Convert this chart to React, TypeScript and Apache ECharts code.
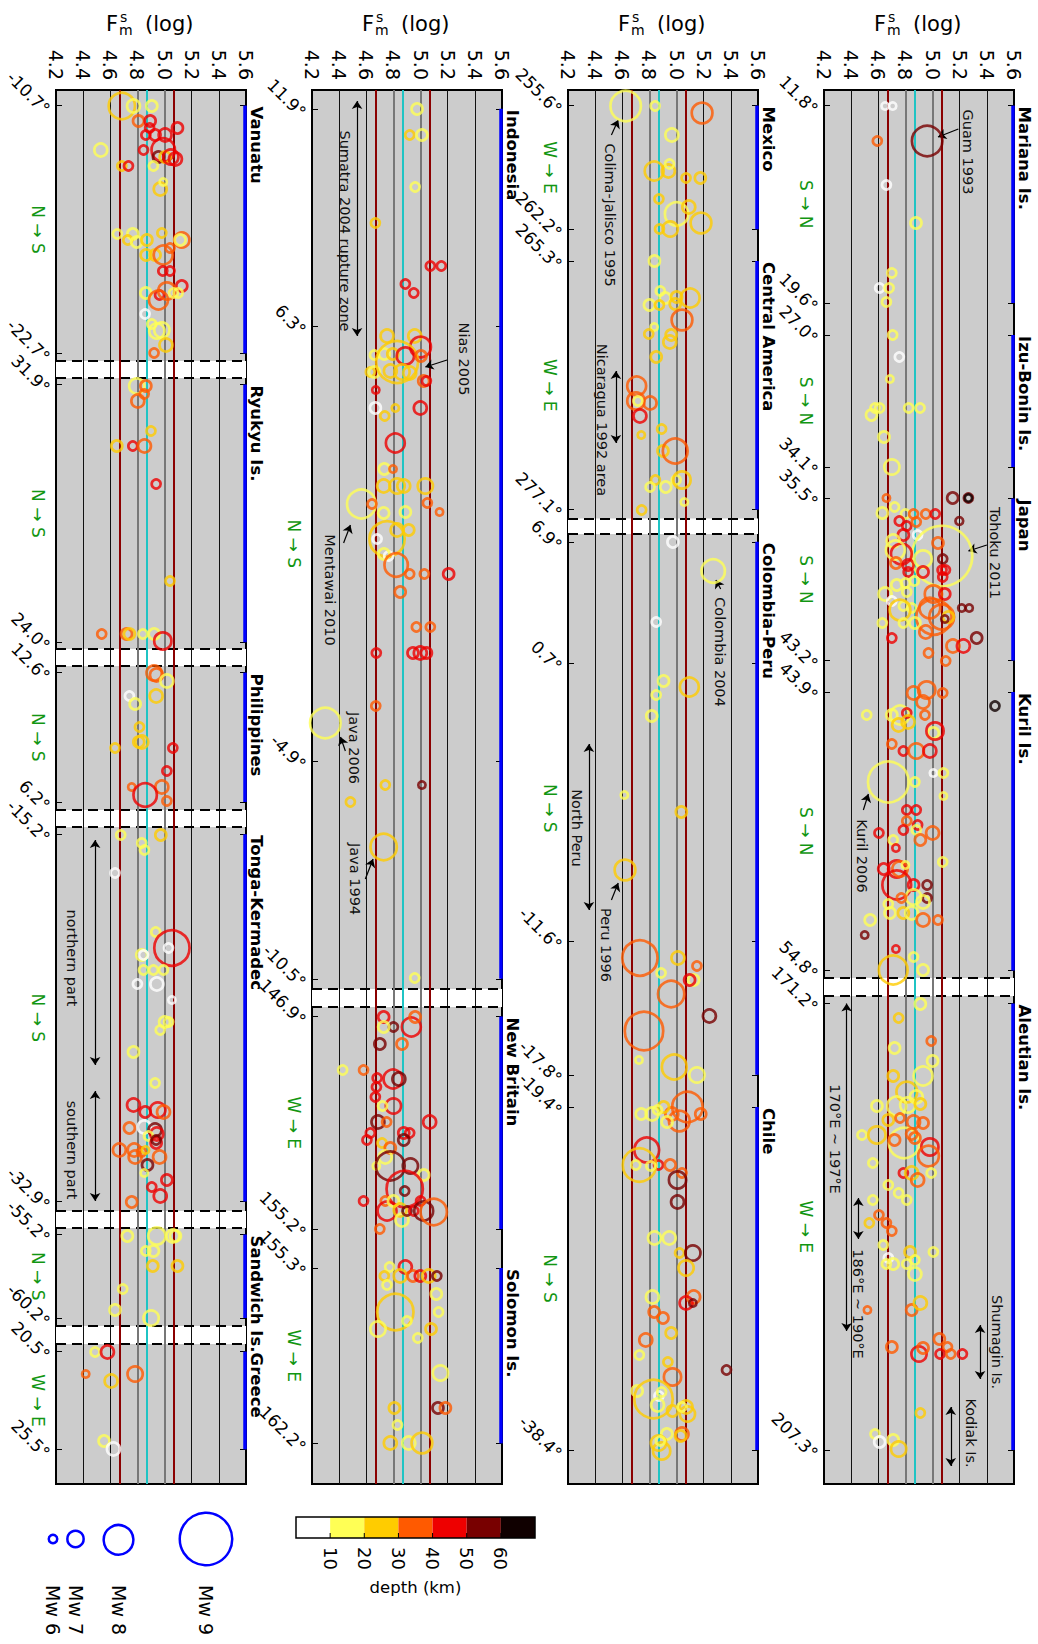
import React, { useEffect, useRef } from "react";
import * as echarts from "echarts";

const FONT = "DejaVu Sans";
const FM_MIN = 4.2;
const FM_MAX = 5.6;
const FM_STEP = 0.2;
const ARC_MAX = 1394; // along-arc distance (arbitrary units) covered by each panel
const blackGridFm = [4.4, 4.6, 5.2, 5.4];
const grayGridFm = [4.8, 5.0];
const meanFm = 4.865;
const sdFm = [4.665, 5.065];
const depthEdges = [10, 20, 30, 40, 50, 60];
const depthColors = ["#ffffff", "#ffff55", "#ffcc00", "#ff5a00", "#ee0000", "#780000", "#100000"];
const mwLegend = [6, 7, 8, 9];

// ---------- Panel 1 : Mariana .. Aleutian ----------
const p1TickPos = [15.6, 213, 245, 377, 408.5, 570.5, 602, 880.5, 913.6, 1360];
const p1TickLabels = ["11.8°", "19.6°", "27.0°", "34.1°", "35.5°", "43.2°", "43.9°", "54.8°", "171.2°", "207.3°"];
const p1Regions: [string, number, number, string][] = [
  ["Mariana Is.", 15.6, 213, "S → N"],
  ["Izu-Bonin Is.", 245, 377, "S → N"],
  ["Japan", 408.5, 570.5, "S → N"],
  ["Kuril Is.", 602, 880.5, "S → N"],
  ["Aleutian Is.", 913.6, 1360, "W → E"],
];
const p1Bands = [[888, 906]];
// [Fm, along-arc position, Mw, depth km]
const p1Quakes = [
  [4.65, 16, 5.5, 5], [4.706, 16, 5.5, 5], [4.593, 51, 5.8, 35], [4.96, 51, 7.75, 55], [4.66, 95, 5.8, 5],
  [4.878, 133, 6.1, 15], [4.70, 183, 5.8, 15], [4.61, 198, 5.8, 5], [4.68, 198, 5.8, 15], [4.66, 212, 5.8, 15],
  [4.706, 245, 5.8, 15], [4.755, 267, 5.8, 5], [4.686, 289, 5.5, 15], [4.576, 318, 5.8, 15], [4.55, 325, 6.1, 15],
  [4.61, 318, 5.8, 15], [4.824, 318, 5.8, 15], [4.908, 318, 5.8, 15], [4.642, 347, 6.1, 15], [4.70, 377, 6.6, 15],
  [5.148, 408, 6.1, 55], [5.264, 408, 5.8, 55], [5.264, 408, 5.5, 65], [4.66, 408, 5.5, 35], [5.197, 431, 5.6, 55],
  [4.63, 423, 6.1, 15], [4.72, 417, 5.8, 15], [4.80, 424, 5.8, 15], [4.86, 424, 5.8, 35], [4.95, 424, 5.8, 35],
  [5.02, 424, 5.8, 45], [4.755, 431, 5.8, 45], [4.81, 436, 5.8, 45], [4.88, 432, 5.8, 35], [4.89, 445, 5.8, 5],
  [4.785, 445, 6.1, 45], [4.71, 451, 6.35, 15], [5.07, 466, 8.95, 15], [5.04, 453, 6.1, 35], [4.77, 464, 7.1, 45],
  [4.726, 460, 6.95, 15], [4.73, 473, 6.1, 35], [4.82, 475, 6.1, 45], [4.93, 469, 6.8, 15], [5.075, 469, 5.8, 55],
  [5.07, 480, 5.8, 45], [5.095, 480, 5.8, 45], [5.075, 487, 5.8, 45], [4.82, 482, 5.8, 45], [4.93, 482, 6.1, 45],
  [4.736, 495, 6.1, 15], [4.80, 493, 5.8, 15], [4.866, 491, 5.8, 15], [4.81, 502, 5.8, 15], [4.65, 504, 6.35, 15],
  [4.70, 511, 5.8, 5], [5.006, 504, 6.8, 35], [5.09, 504, 6.1, 45], [4.785, 516, 5.8, 15], [4.846, 518, 5.8, 15],
  [4.76, 520, 7.1, 25], [4.98, 518, 7.1, 35], [5.067, 527, 7.4, 35], [5.01, 527, 8.0, 35], [5.215, 518, 5.5, 55],
  [5.27, 518, 5.5, 55], [5.116, 527, 6.1, 25], [5.09, 529, 5.5, 55], [4.63, 533, 5.8, 15], [4.785, 533, 5.8, 15],
  [4.87, 533, 6.1, 15], [4.70, 548, 5.8, 45], [4.95, 542, 6.35, 35], [5.325, 548, 6.1, 55], [5.15, 556, 6.35, 35],
  [5.227, 556, 6.35, 45], [4.97, 563, 5.8, 35], [5.097, 571, 5.8, 35],
  [5.46, 616, 5.8, 65], [4.515, 625, 5.8, 15], [4.86, 603, 6.35, 35], [4.957, 600, 6.8, 35], [4.93, 612, 6.35, 35],
  [5.075, 603, 5.8, 35], [4.70, 625, 6.1, 15], [4.76, 625, 6.95, 15], [4.81, 623, 5.8, 45], [4.944, 625, 5.8, 35],
  [4.82, 632, 6.35, 25], [4.75, 635, 6.35, 25], [5.006, 643, 6.1, 15], [5.018, 641, 6.8, 45], [4.70, 654, 5.8, 35],
  [4.785, 661, 5.8, 45], [4.88, 661, 6.6, 35], [4.98, 661, 6.35, 45], [4.674, 692, 8.25, 15], [4.87, 692, 5.8, 15],
  [5.006, 683, 5.5, 5], [5.08, 683, 5.8, 15], [5.08, 706, 5.5, 15], [4.81, 720, 5.8, 45], [4.88, 720, 5.8, 45],
  [4.81, 731, 5.8, 35], [4.785, 740, 5.8, 45], [4.89, 735, 5.8, 45], [4.88, 740, 5.8, 15], [4.91, 750, 6.1, 35],
  [5.00, 743, 6.35, 35], [4.605, 743, 5.8, 45], [4.71, 750, 5.8, 15], [4.73, 758, 5.5, 45], [5.075, 772, 5.8, 15],
  [4.64, 779, 6.1, 45], [4.736, 779, 6.8, 45], [4.76, 779, 6.6, 35], [4.80, 775, 5.5, 15], [4.736, 795, 7.65, 45],
  [4.86, 795, 6.1, 45], [4.96, 795, 5.8, 55], [4.96, 808, 5.8, 55], [4.86, 807, 6.6, 15], [4.77, 808, 5.8, 35],
  [4.93, 812, 6.35, 15], [4.674, 814, 5.8, 15], [4.54, 830, 6.1, 15], [4.686, 823, 6.1, 15], [4.785, 823, 6.1, 25],
  [4.846, 823, 6.35, 15], [4.93, 830, 6.35, 35], [5.04, 830, 5.8, 35], [4.50, 845, 5.5, 55], [4.73, 859, 5.5, 45],
  [4.86, 867, 5.8, 15], [4.93, 880, 6.1, 15], [4.71, 880, 7.65, 25],
  [4.91, 914, 6.1, 15], [4.75, 928, 5.8, 25], [4.99, 951, 5.8, 35], [4.72, 958, 6.1, 15], [5.00, 971, 6.1, 15],
  [4.71, 986, 6.1, 25], [4.93, 986, 6.95, 15], [4.81, 1002, 7.1, 25], [4.88, 1007, 6.35, 15], [4.59, 1016, 6.1, 15],
  [4.736, 1016, 6.95, 15], [4.817, 1015, 6.6, 15], [4.91, 1014, 6.1, 25], [4.674, 1030, 6.1, 25], [4.76, 1028, 5.8, 35],
  [4.86, 1032, 6.35, 35], [4.93, 1033, 6.1, 35], [4.48, 1045, 5.8, 15], [4.59, 1045, 6.8, 25], [4.79, 1053, 7.75, 15],
  [4.98, 1057, 6.8, 45], [4.97, 1066, 7.1, 35], [4.846, 1044, 6.1, 35], [4.87, 1048, 6.1, 35], [4.72, 1050, 6.1, 35],
  [4.56, 1073, 5.8, 15], [4.785, 1083, 5.8, 45], [4.846, 1083, 6.35, 25], [4.89, 1090, 6.35, 35], [4.99, 1083, 5.8, 15],
  [4.674, 1095, 5.8, 15], [4.75, 1103, 5.8, 15], [4.81, 1110, 5.8, 15], [4.56, 1110, 5.8, 15], [4.605, 1125, 5.8, 35],
  [4.534, 1133, 5.8, 25], [4.66, 1133, 5.8, 35], [4.70, 1141, 5.8, 35], [4.637, 1155, 5.8, 15], [4.674, 1168, 5.8, 5],
  [4.71, 1174, 6.1, 15], [4.66, 1174, 5.8, 15], [4.834, 1162, 6.1, 25], [4.87, 1170, 5.8, 15], [4.81, 1174, 5.8, 15],
  [4.87, 1184, 6.35, 15], [5.006, 1162, 5.8, 15], [4.52, 1220, 5.5, 35], [4.846, 1220, 6.1, 35], [4.91, 1213, 6.35, 25],
  [4.70, 1257, 6.1, 35], [4.90, 1264, 6.6, 45], [4.93, 1258, 6.1, 35], [5.05, 1249, 6.1, 35], [5.11, 1257, 5.8, 35],
  [5.055, 1264, 5.8, 45], [5.134, 1264, 5.8, 35], [5.22, 1264, 5.8, 45], [4.91, 1323, 5.8, 25], [4.576, 1344, 5.8, 15],
  [4.61, 1352, 6.1, 5], [4.71, 1350, 6.1, 15], [4.75, 1359, 6.6, 25],
];
const p1Notes: [number, number, string][] = [
  [5.264, 62, "Guam 1993"],
  [5.46, 463, "Tohoku 2011"],
  [4.478, 766, "Kuril 2006"],
  [4.28, 1049, "170°E ~ 197°E"],
  [4.453, 1214, "186°E ~ 190°E"],
  [5.478, 1252, "Shumagin Is."],
  [5.28, 1343, "Kodiak Is."],
];
// [x1, y1, x2, y2, doubleHeaded]
const p1Arrows = [
  [5.19, 39, 5.04, 47, 0],
  [5.40, 455, 5.264, 461, 0],
  [4.49, 720, 4.527, 704, 0],
  [4.367, 913.6, 4.367, 1241, 1],
  [4.453, 1108, 4.453, 1149, 1],
  [5.35, 1235, 5.35, 1289, 1],
  [5.134, 1317, 5.134, 1376, 1],
];

// ---------- Panel 2 : Mexico .. Chile ----------
const p2TickPos = [15.6, 139.3, 171, 419.6, 451.8, 572.8, 851.6, 984.8, 1017, 1360];
const p2TickLabels = ["255.6°", "262.2°", "265.3°", "277.1°", "6.9°", "0.7°", "-11.6°", "-17.8°", "-19.4°", "-38.4°"];
const p2Regions: [string, number, number, string][] = [
  ["Mexico", 15.6, 139.3, "W → E"],
  ["Central America", 171, 419.6, "W → E"],
  ["Colombia-Peru", 451.8, 984.8, "N → S"],
  ["Chile", 1017, 1360, "N → S"],
];
const p2Bands = [[428.6, 444]];
const p2Quakes = [
  [4.625, 16, 7.75, 15], [4.842, 16, 5.8, 15], [5.188, 23, 7.1, 35], [4.965, 45, 6.35, 15], [4.835, 81, 6.95, 25],
  [4.94, 81, 6.35, 25], [4.948, 74, 5.8, 15], [5.07, 88, 5.8, 25], [5.175, 88, 6.1, 25], [4.87, 109, 5.8, 25],
  [5.0, 124, 7.3, 15], [5.09, 117, 6.35, 25], [5.18, 133, 7.1, 25], [4.874, 139, 5.8, 25], [4.953, 139, 6.6, 25],
  [4.837, 171, 6.1, 15], [4.88, 201, 5.8, 15], [4.916, 208, 6.1, 15], [4.80, 215, 6.1, 15], [4.874, 215, 5.8, 25],
  [5.0, 207, 6.1, 25], [5.10, 208, 6.95, 25], [4.99, 214, 6.1, 25], [5.04, 230, 7.1, 35], [4.835, 237, 5.5, 15],
  [4.795, 244, 5.8, 25], [4.96, 245, 6.1, 25], [4.95, 252, 6.35, 25], [4.85, 267, 6.1, 25], [4.706, 296, 6.95, 35],
  [4.70, 311, 6.8, 35], [4.805, 313, 6.35, 35], [4.73, 326, 6.35, 45], [4.74, 345, 5.5, 25], [4.715, 311, 5.8, 15],
  [4.89, 339, 5.8, 25], [4.90, 361, 6.1, 25], [4.99, 361, 7.4, 35], [4.844, 390, 5.8, 25], [4.805, 397, 5.8, 15],
  [4.92, 397, 6.1, 15], [4.997, 390, 5.8, 15], [5.04, 390, 6.8, 25], [5.057, 412, 5.5, 15], [4.743, 420, 5.8, 25],
  [4.973, 452, 6.1, 5], [5.27, 481, 7.3, 15], [4.85, 532, 5.8, 5], [4.904, 591, 6.1, 15], [5.094, 597, 6.95, 25],
  [4.85, 605, 5.8, 15], [4.817, 626, 6.1, 15], [4.615, 705, 5.5, 15], [5.035, 722, 6.1, 25], [4.62, 780, 7.1, 25],
  [4.73, 868, 8.0, 35], [5.01, 868, 6.35, 25], [4.886, 883, 5.8, 15], [5.15, 876, 5.8, 35], [5.126, 890, 6.1, 15],
  [5.096, 890, 6.1, 45], [4.96, 904, 7.5, 35], [5.242, 926, 6.35, 55], [4.76, 941, 8.15, 35], [4.723, 970, 5.5, 15],
  [4.983, 977, 7.4, 25], [5.15, 985, 6.6, 15],
  [5.08, 1017, 7.75, 35], [5.178, 1024, 6.1, 35], [5.02, 1031, 7.1, 35], [4.965, 1024, 6.35, 35], [4.904, 1017, 6.1, 25],
  [4.93, 1032, 6.1, 15], [4.82, 1024, 6.35, 15], [4.74, 1024, 6.1, 15], [4.86, 1020, 5.8, 15], [4.78, 1060, 7.4, 45],
  [4.867, 1075, 5.8, 45], [4.726, 1075, 7.9, 25], [4.70, 1075, 5.8, 15], [4.81, 1076, 5.8, 15], [4.953, 1075, 6.1, 35],
  [5.04, 1083, 5.8, 35], [5.007, 1090, 6.8, 55], [5.007, 1112, 6.35, 55], [4.837, 1148, 6.35, 15], [4.946, 1148, 6.35, 15],
  [5.022, 1163, 5.8, 25], [5.12, 1163, 6.6, 55], [5.07, 1178, 6.6, 25], [4.822, 1207, 6.35, 15], [5.126, 1207, 6.35, 35],
  [5.07, 1213, 6.35, 45], [5.12, 1213, 5.5, 55], [4.835, 1222, 6.1, 35], [4.90, 1228, 6.1, 35], [4.773, 1250, 6.35, 35],
  [4.96, 1243, 6.1, 25], [4.726, 1265, 5.8, 15], [4.936, 1272, 5.8, 25], [4.97, 1287, 6.8, 35], [5.368, 1280, 5.8, 55],
  [4.71, 1301, 6.1, 15], [4.83, 1309, 8.15, 25], [4.87, 1306, 5.8, 5], [4.89, 1302, 5.8, 15], [4.86, 1315, 6.35, 15],
  [4.97, 1321, 6.1, 25], [5.07, 1317, 6.35, 25], [5.08, 1324, 6.6, 25], [5.04, 1317, 5.8, 15], [4.928, 1344, 6.1, 15],
  [5.04, 1344, 6.35, 35], [5.03, 1346, 6.1, 25], [4.867, 1353, 6.6, 25], [4.89, 1361, 6.8, 25], [4.88, 1351, 5.8, 15],
];
const p2Notes: [number, number, string][] = [
  [4.509, 125, "Colima-Jalisco 1995"],
  [4.447, 330, "Nicaragua 1992 area"],
  [5.323, 562, "Colombia 2004"],
  [4.267, 738, "North Peru"],
  [4.48, 855, "Peru 1996"],
];
const p2Arrows = [
  [4.52, 45, 4.57, 30, 0],
  [4.553, 281, 4.553, 353, 1],
  [5.325, 499, 5.29, 490, 0],
  [4.354, 654, 4.354, 820, 1],
  [4.52, 810, 4.57, 793, 0],
];

// ---------- Panel 3 : Indonesia .. Solomon ----------
const p3TickPos = [18.75, 236.6, 671, 888.8, 926.5, 1139, 1178, 1353.4];
const p3TickLabels = ["11.9°", "6.3°", "-4.9°", "-10.5°", "146.9°", "155.2°", "155.3°", "162.2°"];
const p3Regions: [string, number, number, string][] = [
  ["Indonesia", 18.75, 888.8, "N → S"],
  ["New Britain", 926.5, 1139, "W → E"],
  ["Solomon Is.", 1178, 1353.4, "W → E"],
];
const p3Bands = [[899, 917]];
const p3Quakes = [
  [4.974, 19, 6.1, 15], [4.92, 45, 5.8, 25], [5.01, 45, 6.1, 15], [4.96, 97, 5.8, 15], [4.667, 133, 5.8, 25],
  [5.072, 176, 5.8, 45], [5.153, 176, 5.8, 45], [4.888, 194, 5.8, 45], [4.95, 203, 5.8, 45], [4.753, 246, 6.35, 25],
  [4.957, 246, 6.35, 25], [5.0, 257, 7.1, 45], [4.66, 265, 5.8, 15], [4.733, 264, 6.1, 15], [4.795, 264, 6.1, 25],
  [4.63, 282, 5.8, 25], [4.66, 282, 6.1, 15], [4.827, 272, 8.3, 25], [4.888, 266, 6.8, 45], [5.003, 266, 6.1, 35],
  [4.863, 282, 6.6, 25], [4.92, 283, 6.35, 25], [4.777, 281, 6.35, 25], [5.023, 291, 6.1, 35], [5.043, 291, 5.8, 45],
  [4.67, 300, 5.5, 45], [4.998, 318, 6.35, 45], [4.814, 318, 5.5, 25], [4.667, 318, 6.1, 5], [4.736, 326, 5.8, 25],
  [4.814, 353, 6.95, 45], [4.733, 379, 6.1, 15], [4.797, 379, 5.5, 35], [4.728, 396, 6.35, 25], [4.827, 396, 6.6, 25],
  [4.876, 396, 6.35, 25], [5.035, 396, 6.6, 25], [4.564, 414, 7.65, 15], [4.642, 414, 5.8, 35], [4.728, 423, 6.1, 15],
  [4.888, 422, 6.1, 15], [5.05, 413, 5.8, 35], [5.14, 422, 5.5, 35], [4.753, 449, 8.0, 25], [4.827, 440, 6.35, 25],
  [4.913, 440, 6.1, 25], [4.68, 449, 5.8, 5], [4.765, 466, 5.8, 5], [4.73, 464, 6.1, 15], [4.82, 475, 7.3, 35],
  [4.92, 484, 5.8, 35], [5.028, 484, 5.8, 35], [5.207, 484, 6.1, 45], [4.85, 502, 6.1, 35], [4.969, 537, 5.8, 35],
  [5.072, 537, 5.8, 35], [4.674, 563, 5.8, 45], [4.944, 563, 6.1, 45], [4.998, 563, 6.35, 45], [5.043, 563, 6.1, 45],
  [4.67, 616, 5.8, 35], [4.298, 633, 7.75, 15], [4.74, 695, 5.8, 25], [5.01, 695, 5.5, 55], [4.483, 712, 5.8, 25],
  [4.728, 757, 7.5, 25], [4.957, 888, 5.8, 15],
  [4.728, 927, 6.1, 45], [4.80, 937, 5.8, 55], [4.728, 937, 6.1, 15], [4.932, 937, 6.95, 45], [4.96, 927, 6.1, 35],
  [4.863, 954, 6.1, 35], [4.70, 954, 6.1, 55], [4.426, 980, 5.8, 15], [4.58, 980, 5.8, 35], [4.68, 988, 5.8, 45],
  [4.675, 997, 5.8, 45], [4.667, 1007, 5.8, 45], [4.797, 989, 6.95, 45], [4.84, 989, 6.35, 55], [4.80, 1016, 6.6, 45],
  [4.72, 1016, 5.8, 15], [5.067, 1032, 6.35, 45], [4.686, 1032, 6.35, 55], [4.75, 1032, 5.8, 35], [4.876, 1043, 6.1, 45],
  [4.92, 1043, 5.8, 45], [4.63, 1043, 5.8, 45], [4.605, 1050, 5.8, 45], [4.716, 1053, 5.8, 25], [4.777, 1058, 6.1, 35],
  [4.876, 1050, 6.1, 55], [4.74, 1067, 6.35, 15], [4.674, 1076, 5.5, 15], [4.777, 1076, 7.65, 55], [4.925, 1076, 6.6, 55],
  [5.023, 1085, 6.1, 15], [4.883, 1099, 8.05, 45], [4.883, 1101, 5.8, 55], [4.58, 1111, 5.8, 45], [4.74, 1111, 5.8, 35],
  [4.753, 1121, 6.95, 45], [4.80, 1111, 6.1, 15], [4.85, 1120, 6.35, 25], [4.863, 1130, 6.35, 15], [4.90, 1121, 5.8, 55],
  [4.95, 1121, 5.8, 45], [5.0, 1111, 5.8, 45], [5.023, 1121, 6.95, 55], [5.097, 1122, 7.5, 35], [4.70, 1139, 5.8, 35],
  [4.772, 1177, 5.8, 15], [4.888, 1177, 6.35, 45], [4.733, 1186, 5.8, 25], [4.85, 1186, 6.35, 25], [4.944, 1186, 6.1, 35],
  [4.998, 1186, 6.1, 45], [5.06, 1186, 6.35, 25], [5.12, 1186, 5.8, 55], [4.753, 1195, 5.8, 15], [5.116, 1204, 6.1, 15],
  [5.133, 1222, 5.8, 15], [4.814, 1222, 8.05, 25], [4.90, 1231, 5.8, 15], [4.686, 1239, 6.6, 15], [5.077, 1239, 6.1, 25],
  [4.98, 1248, 5.8, 15], [5.146, 1283, 6.6, 15], [4.807, 1318, 6.1, 25], [5.128, 1318, 6.1, 55], [5.183, 1318, 6.1, 35],
  [4.83, 1335, 5.8, 15], [4.777, 1353, 6.35, 25], [4.913, 1353, 6.35, 15], [5.01, 1353, 7.1, 25],
];
const p3Notes: [number, number, string][] = [
  [4.446, 141, "Sumatra 2004 rupture zone"],
  [5.318, 269, "Nias 2005"],
  [4.335, 500, "Mentawai 2010"],
  [4.507, 658, "Java 2006"],
  [4.52, 789, "Java 1994"],
];
const p3Arrows = [
  [4.532, 11, 4.532, 246, 1],
  [5.195, 270, 5.035, 277, 0],
  [4.433, 453, 4.483, 435, 0],
  [4.446, 661, 4.41, 647, 0],
  [4.593, 789, 4.65, 769, 0],
];

// ---------- Panel 4 : Vanuatu .. Greece ----------
const p4TickPos = [15.6, 263.4, 294.6, 552.2, 582.6, 712, 744.2, 1111.5, 1144.5, 1228, 1261.6, 1359.4];
const p4TickLabels = ["-10.7°", "-22.7°", "31.9°", "24.0°", "12.6°", "6.2°", "-15.2°", "-32.9°", "-55.2°", "-60.2°", "20.5°", "25.5°"];
const p4Regions: [string, number, number, string][] = [
  ["Vanuatu", 15.6, 263.4, "N → S"],
  ["Ryukyu Is.", 294.6, 552.2, "N → S"],
  ["Philippines", 582.6, 712, "N → S"],
  ["Tonga-Kermadec", 744.2, 1111.5, "N → S"],
  ["Sandwich Is.", 1144.5, 1228, "N → S"],
  ["Greece", 1261.6, 1359.4, "W → E"],
];
const p4Bands = [[271, 288], [559, 576], [720, 737], [1121, 1138], [1236, 1254]];
const p4Quakes = [
  [4.685, 16, 7.5, 25], [4.771, 16, 6.35, 15], [4.906, 16, 6.1, 15], [4.808, 31, 6.1, 35], [4.894, 31, 6.1, 45],
  [4.89, 38, 5.8, 45], [5.095, 38, 6.1, 45], [4.862, 45, 5.8, 45], [4.93, 45, 6.1, 45], [5.004, 45, 6.35, 45],
  [4.53, 60, 6.35, 15], [4.845, 60, 5.8, 45], [4.99, 60, 7.3, 45], [4.955, 67, 6.1, 55], [5.004, 67, 6.1, 25],
  [5.046, 67, 6.6, 45], [5.08, 69, 6.35, 45], [4.685, 76, 5.8, 25], [4.734, 76, 5.8, 45], [4.918, 76, 5.8, 15],
  [4.968, 99, 6.35, 25], [4.99, 92, 5.5, 15], [4.652, 144, 5.8, 15], [4.766, 144, 6.1, 15], [4.729, 150, 5.8, 25],
  [4.795, 152, 6.1, 15], [4.87, 150, 6.1, 25], [4.98, 143, 5.8, 25], [5.127, 150, 6.6, 35], [5.115, 150, 6.1, 15],
  [4.864, 165, 6.1, 25], [4.93, 165, 6.1, 25], [4.99, 165, 6.95, 35], [5.04, 158, 5.8, 35], [4.987, 181, 5.8, 45],
  [5.04, 181, 5.8, 45], [5.127, 196, 6.1, 45], [4.862, 203, 6.1, 15], [4.963, 205, 5.8, 45], [4.955, 210, 6.95, 35],
  [5.017, 201, 6.8, 35], [5.066, 203, 5.8, 15], [5.10, 203, 5.8, 15], [4.857, 224, 5.8, 5], [4.906, 234, 5.8, 15],
  [4.943, 241, 6.6, 15], [4.98, 240, 6.6, 15], [5.01, 255, 6.35, 25], [4.923, 263, 5.8, 35],
  [4.795, 296, 6.6, 15], [4.862, 296, 6.1, 35], [4.85, 304, 5.8, 35], [4.803, 311, 6.35, 35], [4.90, 341, 5.8, 25],
  [4.648, 356, 6.1, 25], [4.766, 356, 5.8, 45], [4.852, 356, 6.35, 35], [4.938, 394, 5.8, 45], [5.04, 491, 5.8, 25],
  [4.537, 544, 5.8, 35], [4.72, 544, 6.1, 35], [4.741, 544, 6.1, 25], [4.84, 544, 5.8, 15], [4.923, 544, 6.1, 15],
  [4.987, 551, 6.8, 45],
  [4.923, 583, 6.6, 35], [4.94, 585, 6.35, 35], [5.017, 591, 6.35, 15], [4.741, 606, 5.8, 5], [4.783, 614, 6.1, 15],
  [4.938, 606, 6.35, 25], [4.815, 637, 5.8, 25], [4.832, 652, 6.35, 25], [4.81, 652, 6.1, 25], [4.635, 658, 5.8, 25],
  [5.061, 658, 5.8, 45], [5.017, 681, 5.8, 45], [4.758, 697, 5.5, 35], [4.98, 697, 6.35, 35], [4.857, 705, 7.3, 45],
  [5.017, 711, 5.8, 35],
  [4.677, 745, 5.8, 15], [4.972, 745, 6.1, 25], [4.832, 753, 5.8, 15], [4.852, 760, 5.8, 15], [4.635, 783, 5.8, 5],
  [4.935, 842, 5.8, 15], [5.054, 858, 8.0, 45], [5.029, 858, 5.8, 5], [4.832, 865, 6.1, 15], [4.845, 865, 5.8, 5],
  [4.845, 880, 5.8, 15], [4.918, 880, 5.8, 15], [4.992, 880, 5.8, 15], [4.80, 894, 5.8, 5], [4.943, 894, 6.35, 5],
  [5.054, 910, 5.5, 5], [5.0, 932, 6.1, 15], [5.03, 932, 5.8, 15], [4.968, 940, 5.8, 15], [4.771, 962, 6.1, 15],
  [4.93, 993, 5.8, 15], [4.771, 1015, 6.35, 45], [4.857, 1022, 6.1, 45], [4.95, 1020, 6.6, 45], [4.992, 1022, 6.35, 35],
  [4.741, 1038, 6.1, 35], [4.85, 1037, 6.35, 5], [4.93, 1040, 6.35, 55], [4.943, 1044, 6.35, 45], [4.881, 1046, 5.8, 15],
  [4.938, 1053, 6.1, 45], [4.938, 1050, 5.8, 55], [4.667, 1060, 6.35, 35], [4.776, 1060, 6.35, 35], [4.83, 1062, 5.8, 35],
  [4.783, 1067, 6.35, 35], [4.963, 1067, 6.35, 35], [4.86, 1060, 5.5, 25], [4.874, 1075, 6.1, 55], [4.85, 1083, 5.5, 15],
  [5.017, 1090, 6.1, 45], [4.906, 1097, 5.8, 45], [4.968, 1106, 6.35, 45], [4.758, 1112, 6.1, 35],
  [4.726, 1146, 6.1, 15], [4.943, 1146, 6.8, 15], [5.061, 1146, 6.35, 15], [5.08, 1146, 6.1, 15], [4.862, 1161, 5.8, 15],
  [4.918, 1161, 6.1, 15], [4.913, 1176, 6.1, 25], [5.095, 1176, 6.1, 25], [4.692, 1199, 5.8, 15], [4.635, 1220, 6.1, 15],
  [4.901, 1228, 6.6, 15],
  [4.488, 1262, 5.8, 15], [4.579, 1262, 6.35, 45], [4.419, 1284, 5.5, 35], [4.606, 1291, 6.35, 25], [4.783, 1284, 6.6, 35],
  [4.554, 1351, 6.1, 15], [4.623, 1359, 6.35, 5],
];
const p4Notes: [number, number, string][] = [
  [4.316, 868, "northern part"],
  [4.316, 1060, "southern part"],
];
const p4Arrows = [
  [4.488, 750, 4.488, 975, 1],
  [4.488, 1001, 4.488, 1111, 1],
];

const panels = [
  { left: 56, tickPos: p4TickPos, tickLabels: p4TickLabels, regions: p4Regions, bands: p4Bands, quakes: p4Quakes, notes: p4Notes, arrows: p4Arrows },
  { left: 312, tickPos: p3TickPos, tickLabels: p3TickLabels, regions: p3Regions, bands: p3Bands, quakes: p3Quakes, notes: p3Notes, arrows: p3Arrows },
  { left: 568, tickPos: p2TickPos, tickLabels: p2TickLabels, regions: p2Regions, bands: p2Bands, quakes: p2Quakes, notes: p2Notes, arrows: p2Arrows },
  { left: 824, tickPos: p1TickPos, tickLabels: p1TickLabels, regions: p1Regions, bands: p1Bands, quakes: p1Quakes, notes: p1Notes, arrows: p1Arrows },
];

const GRID_TOP = 90;
const GRID_W = 190;
const GRID_H = 1394;
const QUAKE_STROKE = 2.7;

const depthColor = (d: number) => depthColors[Math.min(6, Math.floor(d / 10))];
// outer diameter (px) of a circle for magnitude Mw
const mwDiameter = (mw: number) => 11 * Math.pow(1.71, mw - 6);
// the catalogue circles are drawn a little larger than the key's nominal size
const QUAKE_SCALE = 1.18;

function buildOption() {
  const grid: any[] = [];
  const xAxis: any[] = [];
  const yAxis: any[] = [];
  const series: any[] = [];
  const vline = (v: number, color: string, width: number) => ({ xAxis: v, lineStyle: { color, width, type: "solid" } });
  panels.forEach((p, i) => {
    grid.push({ left: p.left, top: GRID_TOP, width: GRID_W, height: GRID_H, show: true, backgroundColor: "#cccccc", borderColor: "#000", borderWidth: 2, z: 0 });
    xAxis.push({
      gridIndex: i, type: "value", min: FM_MIN, max: FM_MAX, interval: FM_STEP, position: "top",
      axisLine: { show: false }, axisTick: { show: false }, splitLine: { show: false },
      axisLabel: { rotate: -90, fontSize: 19, color: "#000", fontFamily: FONT, margin: 10, formatter: (v: number) => v.toFixed(1) },
    });
    ["left", "right"].forEach((pos) => {
      yAxis.push({
        gridIndex: i, type: "value", min: 0, max: ARC_MAX, inverse: true, position: pos,
        axisLine: { show: false }, splitLine: { show: false },
        axisTick: { show: true, inside: true, length: 6, customValues: p.tickPos, lineStyle: { color: "#000", width: 1 } },
        axisLabel: { show: false },
      });
    });
    const ax = { xAxisIndex: i, yAxisIndex: 2 * i };
    const mk = { silent: true, symbol: ["none", "none"], label: { show: false } };
    // black grid lines (covered by separation bands)
    series.push({ type: "line", ...ax, data: [], z: 1, silent: true, markLine: { ...mk, data: blackGridFm.map((v) => vline(v, "#111", 1)) } });
    // separation bands between non-adjacent arcs
    series.push({
      type: "line", ...ax, data: [], z: 2, silent: true,
      markArea: { silent: true, itemStyle: { color: "#ffffff" }, data: p.bands.map(([a, b]) => [{ yAxis: a }, { yAxis: b }]) },
      markLine: { ...mk, lineStyle: { color: "#000", type: [10, 6], width: 2 }, data: p.bands.flatMap(([a, b]) => [{ yAxis: a }, { yAxis: b }]) },
    });
    // gray, mean and +-sigma reference lines
    series.push({
      type: "line", ...ax, data: [], z: 3, silent: true,
      markLine: {
        ...mk,
        data: [
          ...grayGridFm.map((v) => vline(v, "#777777", 2)),
          ...sdFm.map((v) => vline(v, "#8b0000", 2)),
          vline(meanFm, "#1fc4c4", 2),
        ],
      },
    });
    // region extent bars
    series.push({
      type: "line", ...ax, data: [], z: 4, silent: true,
      markLine: {
        ...mk, lineStyle: { color: "#0000ff", width: 3.5, type: "solid" },
        data: p.regions.map(([, s, e]) => [{ coord: [5.588, s] }, { coord: [5.588, e] }]),
      },
    });
    // earthquakes
    series.push({
      type: "scatter", ...ax, z: 5, silent: true,
      data: p.quakes.map(([fm, pos, mw, dep]) => ({
        value: [fm, pos],
        symbolSize: mwDiameter(mw) * QUAKE_SCALE - QUAKE_STROKE,
        itemStyle: { color: "rgba(0,0,0,0)", borderColor: depthColor(dep), borderWidth: QUAKE_STROKE },
      })),
    });
    // annotation arrows
    series.push({
      type: "line", ...ax, data: [], z: 6, silent: true,
      markLine: {
        silent: true, label: { show: false }, symbolSize: 8,
        lineStyle: { color: "#000", width: 1.2, type: "solid" },
        data: p.arrows.map(([x1, y1, x2, y2, dbl]) => [
          { coord: [x1, y1], symbol: dbl ? "arrow" : "none" },
          { coord: [x2, y2], symbol: "arrow" },
        ]),
      },
    });
  });
  return { animation: false, backgroundColor: "#ffffff", grid, xAxis, yAxis, series };
}

function buildGraphics(chart: any) {
  const g: any[] = [];
  const txt = (x: number, y: number, text: string, o: any = {}) => ({
    type: "text", x, y, rotation: o.rotation || 0, silent: true, z: 100,
    style: {
      text, fill: o.fill || "#000", fontSize: o.fontSize || 17, fontFamily: FONT, fontWeight: o.fontWeight || "normal",
      align: o.align || "center", verticalAlign: o.verticalAlign || "middle",
      textAlign: o.align || "center", textVerticalAlign: o.verticalAlign || "middle",
    },
  });
  panels.forEach((p, i) => {
    const px = (x: number, y: number) => chart.convertToPixel({ gridIndex: i }, [x, y]);
    const L = p.left;
    // title  F^s_m (log)
    g.push(txt(L + 50, 24, "F", { fontSize: 21, align: "left" }));
    g.push(txt(L + 64, 17, "s", { fontSize: 14, align: "left" }));
    g.push(txt(L + 63, 30, "m", { fontSize: 14, align: "left" }));
    g.push(txt(L + 89, 24, "(log)", { fontSize: 21, align: "left" }));
    // location tick labels
    p.tickPos.forEach((t, k) => {
      const a = px(FM_MIN, t);
      g.push(txt(a[0] - 9, a[1] + 6, p.tickLabels[k], { rotation: -Math.PI / 4, align: "right", fontSize: 17 }));
    });
    p.regions.forEach(([name, s, e, dir]) => {
      const a = px(FM_MAX, s);
      g.push(txt(a[0] + 10, a[1] + 1, name, { rotation: -Math.PI / 2, align: "left", fontWeight: "bold", fontSize: 16.5 }));
      const c = px(FM_MIN, (s + e) / 2);
      g.push(txt(c[0] - 18, c[1], dir, { rotation: -Math.PI / 2, fill: "#129612", fontSize: 17 }));
    });
    p.notes.forEach(([x, y, t]) => {
      const c = px(x, y);
      g.push(txt(c[0], c[1], t, { rotation: -Math.PI / 2, fontSize: 14.5, fill: "#111" }));
    });
  });
  // depth colour bar
  const cbX = 296, cbY = 1517, cbW = 239, cbH = 21;
  const bw = cbW / depthColors.length;
  depthColors.forEach((c, k) => {
    g.push({ type: "rect", silent: true, shape: { x: cbX + k * bw, y: cbY, width: bw, height: cbH }, style: { fill: c, stroke: null } });
  });
  g.push({ type: "rect", silent: true, shape: { x: cbX, y: cbY, width: cbW, height: cbH }, style: { fill: "none", stroke: "#000", lineWidth: 1.5 } });
  depthEdges.forEach((d, k) => {
    const x = cbX + (k + 1) * bw;
    g.push({ type: "line", silent: true, shape: { x1: x, y1: cbY + cbH - 5, x2: x, y2: cbY + cbH }, style: { stroke: "#000", lineWidth: 1 } });
    g.push(txt(x, 1547, String(d), { rotation: -Math.PI / 2, align: "left", fontSize: 18 }));
  });
  g.push(txt(cbX + cbW / 2, 1587, "depth (km)", { fontSize: 16.5 }));
  // magnitude key
  const mwX = [53, 75.5, 118.5, 206];
  mwLegend.forEach((mw, k) => {
    g.push({ type: "circle", silent: true, shape: { cx: mwX[k], cy: 1539, r: (mwDiameter(mw) - 2.5) / 2 }, style: { fill: "none", stroke: "#0000ff", lineWidth: 2.5 } });
    g.push(txt(mwX[k], 1585, "Mw " + mw, { rotation: -Math.PI / 2, align: "left", fontSize: 19 }));
  });
  return g;
}

export default function App() {
  const ref = useRef<HTMLDivElement>(null);
  useEffect(() => {
    if (!ref.current) return;
    const chart = echarts.init(ref.current, null, { renderer: "svg" });
    chart.setOption(buildOption() as any);
    chart.setOption({ graphic: { elements: buildGraphics(chart) } } as any);
    return () => chart.dispose();
  }, []);
  return <div ref={ref} style={{ position: "absolute", left: 0, top: 0, width: 1038, height: 1644, background: "#fff" }} />;
}
